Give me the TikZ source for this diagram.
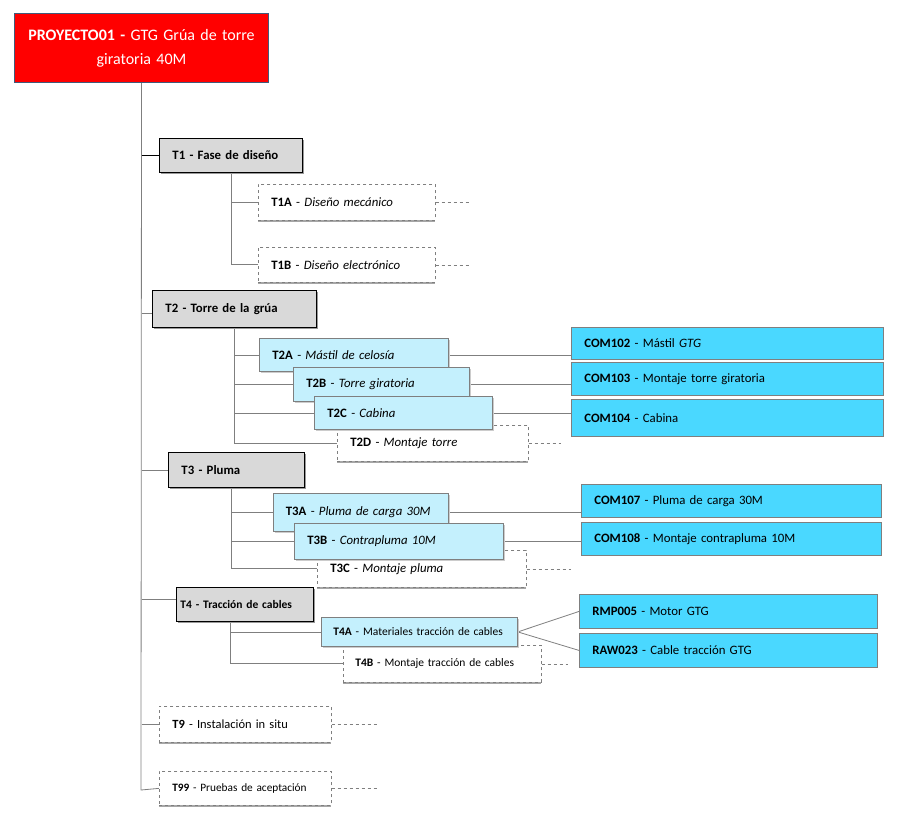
\documentclass[tikz,border=0pt]{standalone}
\usepackage{fontspec}
\setmainfont{Carlito}
\usetikzlibrary{shadows,backgrounds}
\definecolor{titlered}{HTML}{FF0000}
\definecolor{titleedge}{HTML}{415A7A}
\definecolor{phasegray}{HTML}{D9D9D9}
\definecolor{taskcyan}{HTML}{C4F0FD}
\definecolor{partcyan}{HTML}{4AD8FF}
\definecolor{linkgray}{HTML}{7F7F7F}
\tikzset{
  box/.style={anchor=north west, inner xsep=13pt, inner ysep=0pt, align=left,
    font=\fontsize{12.8}{15}\selectfont},
  phase/.style={box, draw=black, line width=0.9pt, fill=phasegray,
    drop shadow={shadow xshift=2pt, shadow yshift=-2pt, fill=gray!80, opacity=1}},
  task/.style={box, draw=linkgray, line width=0.8pt, fill=taskcyan,
    drop shadow={shadow xshift=2pt, shadow yshift=-2pt, fill=gray!40, opacity=1}},
  open/.style={box, draw=linkgray, dashed, line width=0.7pt, fill=white,
    drop shadow={shadow xshift=0pt, shadow yshift=-2pt, fill=gray!70, opacity=1}},
  part/.style={box, draw=linkgray, line width=0.8pt, fill=partcyan},
  link/.style={draw=linkgray, line width=0.8pt},
  stub/.style={draw=linkgray, dashed, line width=0.6pt},
}
\begin{document}
\begin{tikzpicture}[x=1pt,y=-1pt]
\useasboundingbox (0,0) rectangle (901,820);
% project
\node[anchor=north west, draw=titleedge, line width=1pt, fill=titlered, text=white,
  text width=238pt, inner xsep=8pt, inner ysep=0pt, minimum height=69pt, align=center,
  font=\fontsize{16}{24}\selectfont] (title) at (14,13)
  {\textbf{PROYECTO01 -} GTG Grúa de torre\\giratoria 40M};
% T1
\node[phase, text width=117pt, minimum height=34pt] (t1) at (159,138) {\textbf{T1 - Fase de diseño}};
\node[open, text width=151pt, minimum height=36pt] (t1a) at (258,184) {\textbf{T1A} - \textit{Diseño mecánico}};
\node[open, text width=151pt, minimum height=35pt] (t1b) at (258,247) {\textbf{T1B} - \textit{Diseño electrónico}};
% T2
\node[phase, text width=138pt, minimum height=37pt] (t2) at (152,290) {\textbf{T2 - Torre de la grúa}};
\node[task, text width=163pt, minimum height=33pt] (t2a) at (259,338) {\textbf{T2A} - \textit{Mástil de celosía}};
\node[task, text width=150pt, minimum height=34pt] (t2b) at (293,367) {\textbf{T2B} - \textit{Torre giratoria}};
\node[open, text width=165pt, minimum height=36pt] (t2d) at (337,425) {\textbf{T2D} - \textit{Montaje torre}};
\node[task, text width=152pt, minimum height=33pt] (t2c) at (314,396) {\textbf{T2C} - \textit{Cabina}};
\node[part, text width=286pt, minimum height=32pt] (com102) at (571,327) {\textbf{COM102} - Mástil \textit{GTG}};
\node[part, text width=286pt, minimum height=33pt] (com103) at (571,362) {\textbf{COM103} - Montaje torre giratoria};
\node[part, text width=286pt, minimum height=37pt] (com104) at (571,399) {\textbf{COM104} - Cabina};
% T3
\node[phase, text width=110pt, minimum height=35pt] (t3) at (168,452) {\textbf{T3 - Pluma}};
\node[task, text width=150pt, minimum height=38pt, inner xsep=12.5pt] (t3a) at (273,493) {\textbf{T3A} - \textit{Pluma de carga 30M}};
\node[open, text width=183pt, minimum height=37pt] (t3c) at (317,550) {\textbf{T3C} - \textit{Montaje pluma}};
\node[task, text width=183pt, minimum height=36pt] (t3b) at (294,523) {\textbf{T3B} - \textit{Contrapluma 10M}};
\node[part, text width=274pt, minimum height=33pt] (com107) at (581,484) {\textbf{COM107} - Pluma de carga 30M};
\node[part, text width=274pt, minimum height=33pt] (com108) at (581,522) {\textbf{COM108} - Montaje contrapluma 10M};
% T4
\node[phase, text width=129pt, minimum height=34pt, inner xsep=4pt, font=\fontsize{11.5}{14}\selectfont] (t4) at (176,587) {\textbf{T4 - Tracción de cables}};
\node[open, text width=174pt, minimum height=37pt, inner xsep=12pt, font=\fontsize{11.5}{14}\selectfont] (t4b) at (343,645) {\textbf{T4B} - Montaje tracción de cables};
\node[task, text width=172pt, minimum height=29pt, inner xsep=12pt, font=\fontsize{11.5}{14}\selectfont] (t4a) at (321,617) {\textbf{T4A} - Materiales tracción de cables};
\node[part, text width=272pt, minimum height=34pt] (rmp005) at (579,594) {\textbf{RMP005} - Motor GTG};
\node[part, text width=272pt, minimum height=34pt] (raw023) at (579,633) {\textbf{RAW023} - Cable tracción GTG};
% T9, T99
\node[open, text width=146pt, minimum height=36pt, font=\fontsize{12.5}{15}\selectfont] (t9) at (159,706) {\textbf{T9} - Instalación in situ};
\node[open, text width=146pt, minimum height=34pt, font=\fontsize{11.3}{14}\selectfont] (t99) at (159,771) {\textbf{T99} - Pruebas de aceptación};
% links
\begin{scope}[on background layer]
\coordinate (trunkend) at (141,790);
\draw[link] (title.south) -- (trunkend) -- (t99.west);
\draw[black, line width=1pt] (title.south |- t1.west) -- (t1.west);
\draw[link] ([yshift=-4pt]title.south |- t2.west) -- ([yshift=-4pt]t2.west);
\draw[link] (title.south |- t3.west) -- (t3.west);
\draw[link] ([yshift=5pt]title.south |- t4.west) -- ([yshift=5pt]t4.west);
\draw[link] (title.south |- t9.west) -- (t9.west);
% T1 children
\draw[link] (t1.south) |- (t1a.west);
\draw[link] (t1.south) |- (t1b.west);
% T2 children
\draw[link] (t2.south) |- (t2a.west);
\draw[link] (t2.south) |- (t2b.west);
\draw[link] (t2.south) |- (t2c.west);
\draw[link] (t2.south) |- (t2d.west);
\draw[link] (t2a.east) -- (t2a.east -| com102.west);
\draw[link] (t2b.east) -- (t2b.east -| com103.west);
\draw[link] (t2c.east) -- (t2c.east -| com104.west);
% T3 children
\coordinate (t3s) at ([xshift=63pt]t3.south west);
\draw[link] (t3s) |- (t3a.west);
\draw[link] (t3s) |- (t3b.west);
\draw[link] (t3s) |- (t3c.west);
\draw[link] (t3a.east) -- (t3a.east -| com107.west);
\draw[link] (t3b.east) -- (t3b.east -| com108.west);
% T4 children
\coordinate (t4s) at ([xshift=54pt]t4.south west);
\draw[link] (t4s) |- (t4a.west);
\draw[link] (t4s) |- (t4b.west);
\draw[link] (t4a.east) -- (rmp005.west);
\draw[link] (t4a.east) -- (raw023.west);
\end{scope}
% open ends
\draw[stub] (t1a.east) -- ++(33,0);
\draw[stub] (t1b.east) -- ++(33,0);
\draw[stub] (t2d.east) -- ++(32,0);
\draw[stub] (t3c.east) -- ++(44,0);
\draw[stub] (t4b.east) -- ++(26,0);
\draw[stub] (t9.east) -- ++(47,0);
\draw[stub] (t99.east) -- ++(47,0);
\end{tikzpicture}
\end{document}
